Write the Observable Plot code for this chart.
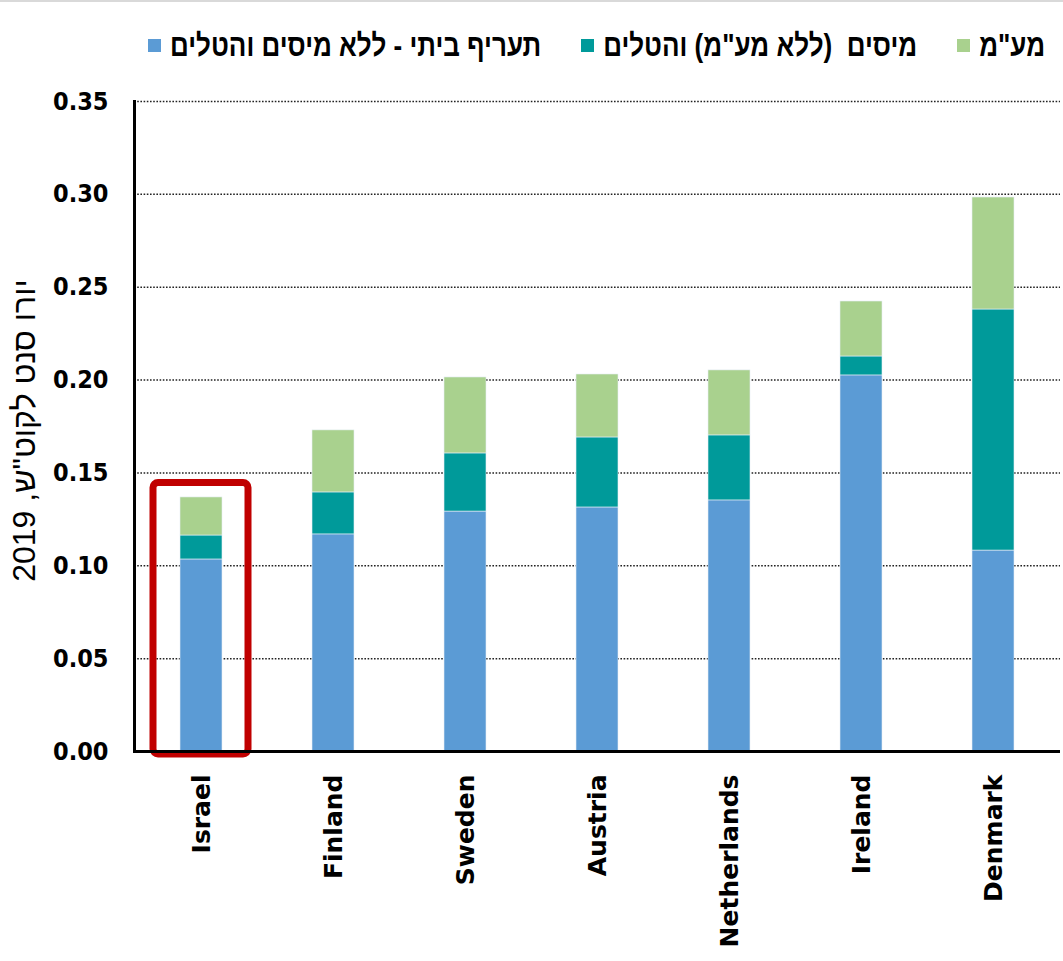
<!DOCTYPE html>
<html>
<head>
<meta charset="utf-8">
<script src="https://cdn.jsdelivr.net/npm/d3@7"></script>
<script src="https://cdn.jsdelivr.net/npm/@observablehq/plot@0.6"></script>
<style>
  html, body { margin: 0; padding: 0; background: #fff; }
  #wrap { width: 1063px; border-top: 2px solid #d9d9d9; box-sizing: border-box; }
  #legend { height: 68px; padding-top: 18px; display: flex; align-items: center; padding-left: 148px; box-sizing: border-box;
            font-family: "Liberation Sans", "DejaVu Sans", sans-serif; font-weight: bold; font-size: 26px; color: #000; }
  .item { display: flex; align-items: center; margin-right: 40px; white-space: pre; }
  .item span.tx { display: inline-block; transform: scaleY(1.2); }
  .sw { width: 13px; height: 13px; margin-right: 9px; flex: none; }
  svg { display: block; }
</style>
</head>
<body>
<div id="wrap">
  <div id="legend"></div>
  <div id="chart"></div>
</div>
<script>
// ---- data ----
const countries = ["Israel", "Finland", "Sweden", "Austria", "Netherlands", "Ireland", "Denmark"];
const seriesNames = ["תעריף ביתי - ללא מיסים והטלים", "מיסים  (ללא מע\"מ) והטלים", "מע\"מ"];
const seriesColors = ["#5b9bd5", "#009a9a", "#a9d18e"];
const baseTariff = [0.1034, 0.1169, 0.1292, 0.1314, 0.1352, 0.2025, 0.1082];
const taxesLevies = [0.0129, 0.0226, 0.0313, 0.0377, 0.0350, 0.0102, 0.1298];
const vat = [0.0205, 0.0334, 0.0409, 0.0339, 0.0350, 0.0296, 0.0603];
const yTicks = [0, 0.05, 0.10, 0.15, 0.20, 0.25, 0.30, 0.35];
const yLabel = "יורו סנט לקוט\"ש, 2019";
const highlight = [{country: "Israel", y1: 0, y2: 0.1446}];

// tidy table
const seriesValues = [baseTariff, taxesLevies, vat];
const rows = [];
seriesNames.forEach((s, i) => countries.forEach((c, j) => rows.push({country: c, series: s, value: seriesValues[i][j]})));

// legend (HTML, left-to-right as in reference)
const legend = document.getElementById("legend");
seriesNames.forEach((s, i) => {
  const it = document.createElement("div"); it.className = "item";
  const sw = document.createElement("span"); sw.className = "sw"; sw.style.background = seriesColors[i];
  const tx = document.createElement("span"); tx.className = "tx"; tx.dir = "rtl"; tx.textContent = s;
  it.appendChild(sw); it.appendChild(tx); legend.appendChild(it);
});

const chart = Plot.plot({
  width: 1063,
  height: 889,
  marginTop: 31,
  marginBottom: 208,
  marginLeft: 134,
  marginRight: 3,
  style: {fontFamily: "'DejaVu Sans', sans-serif", color: "#000", background: "#fff"},
  x: {domain: countries, paddingInner: 0.68, paddingOuter: 0.34, label: null},
  y: {domain: [0, 0.35], label: null},
  color: {domain: seriesNames, range: seriesColors},
  marks: [
    Plot.ruleY(yTicks.filter(t => t > 0), {stroke: "#222", strokeWidth: 1.5, strokeDasharray: "1.6,1.6"}),
    Plot.barY(rows, {x: "country", y: "value", fill: "series", stroke: "#e6eef6", strokeWidth: 0.6}),
    Plot.barY(highlight, {x: "country", y1: "y1", y2: "y2", fill: "none", stroke: "#c00000", strokeWidth: 7,
      rx: 5, insetLeft: -27, insetRight: -26, insetBottom: -3}),
    Plot.axisY({ticks: yTicks, tickFormat: d3.format(".2f"), tickSize: 0, tickPadding: 26,
      fontSize: 25, fontWeight: "bold", fontFamily: "'Liberation Sans Narrow', 'DejaVu Sans Condensed', sans-serif", label: null}),
    Plot.axisX({tickRotate: -90, tickSize: 0, tickPadding: 23, fontSize: 25, fontWeight: "bold", label: null}),
    Plot.text([yLabel], {frameAnchor: "left", textAnchor: "middle", rotate: -90, dx: -110, dy: 4, fontSize: 32,
      fontFamily: "'Liberation Sans', sans-serif"}),
    Plot.frame({anchor: "left", stroke: "#000", strokeWidth: 3}),
    Plot.ruleY([0], {stroke: "#000", strokeWidth: 3})
  ]
});
document.getElementById("chart").appendChild(chart);
</script>
</body>
</html>
